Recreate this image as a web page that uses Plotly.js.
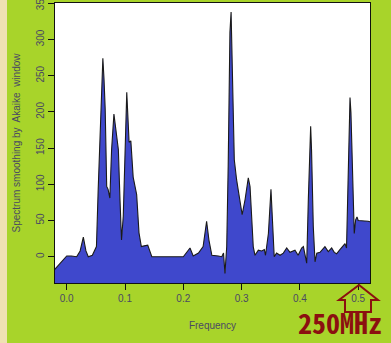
<!DOCTYPE html>
<html>
<head>
<meta charset="utf-8">
<script src="https://cdn.plot.ly/plotly-3.0.1.min.js"></script>
<style>
html,body{margin:0;padding:0;background:#a8d42a;}
#chart{width:391px;height:343px;}
</style>
</head>
<body>
<div id="chart"></div>
<script>
// Frequency axis values
var freq = [-0.032,0.000,0.008,0.017,0.023,0.0285,0.033,0.037,0.044,0.051,0.054,0.057,0.060,0.062,0.064,0.066,0.0686,0.071,0.074,0.077,0.081,0.0846,0.0886,0.0914,0.094,0.097,0.100,0.103,0.107,0.110,0.114,0.118,0.120,0.124,0.128,0.133,0.139,0.146,0.200,0.2115,0.217,0.226,0.234,0.240,0.244,0.249,0.254,0.260,0.266,0.269,0.2715,0.2745,0.277,0.280,0.282,0.284,0.2875,0.2915,0.2955,0.301,0.306,0.3115,0.3145,0.317,0.320,0.323,0.3287,0.3345,0.339,0.341,0.346,0.3504,0.3525,0.356,0.360,0.366,0.3716,0.3774,0.383,0.389,0.3916,0.397,0.403,0.406,0.4117,0.4145,0.4185,0.420,0.423,0.426,0.429,0.4345,0.439,0.443,0.4487,0.4545,0.459,0.463,0.468,0.4717,0.4774,0.480,0.483,0.486,0.4876,0.490,0.4933,0.4957,0.498,0.500,0.517,0.537];
// Smoothed spectrum values
var spectrum = [-28,1,1,0,8,27,8,0,2,14,93,158,230,274,245,204,97,93,81,148,197,171,148,79,23,56,162,227,158,160,110,92,86,33,14,15,16,0,0,12,1,5,14,49,23,2,2,1,0,5,-23,14,125,310,338,264,134,106,88,58,79,109,97,56,14,2,9,8,10,2,32,93,60,0,5,2,5,12,6,8,9,2,12,14,-9,79,180,148,42,-7,5,6,10,14,7,12,6,4,9,12,18,12,125,220,199,125,32,51,55,50,49,45];
var xTicks = [0.0,0.1,0.2,0.3,0.4,0.5];
var yTicks = [0,50,100,150,200,250,300,350];

var xRange = [-0.0201, 0.5203];
var yRange = [-36.3, 350.4];

var base = yRange[0] - 60;
var polyX = freq.concat([freq[freq.length-1], freq[0]]);
var polyY = spectrum.concat([base, base]);

var fillTrace = {
  x: polyX, y: polyY, type: 'scatter', mode: 'lines',
  fill: 'toself', fillcolor: '#3f48cc',
  line: {width: 0, color: 'rgba(0,0,0,0)'},
  hoverinfo: 'skip', showlegend: false
};
var lineTrace = {
  x: freq, y: spectrum, type: 'scatter', mode: 'lines',
  line: {color: '#1a1a1a', width: 1.1},
  showlegend: false
};

var W = 391, H = 343, L = 55, R = 21, T = 3, B = 60;
var pw = W - L - R, ph = H - T - B;
function px(x){ return (x - L) / pw; }
function py(y){ return (H - B - y) / ph; }

var arrowPts = [[359,285],[378,300],[371,300],[371,312],[345,312],[345,300],[339,300]];
var arrowPath = arrowPts.map(function(p,i){ return (i===0?'M ':'L ') + px(p[0]).toFixed(4) + ' ' + py(p[1]).toFixed(4); }).join(' ') + ' Z';

var txtColor = '#4a4a62';

var layout = {
  width: W, height: H,
  margin: {l: L, r: R, t: T, b: B, pad: 0},
  paper_bgcolor: '#a8d42a',
  plot_bgcolor: '#ffffff',
  font: {family: 'Liberation Sans, Arial, sans-serif', size: 10, color: txtColor},
  xaxis: {
    range: xRange, tickvals: xTicks, ticktext: xTicks.map(function(v){return v.toFixed(1);}),
    ticks: 'outside', ticklen: 6, tickcolor: '#111', tickwidth: 1,
    showgrid: false, zeroline: false,
    showline: true, linecolor: '#111', linewidth: 1, mirror: true,
    tickfont: {size: 10, color: txtColor},
    title: {text: 'Frequency', font: {size: 10, color: txtColor}, standoff: 18}
  },
  yaxis: {
    range: yRange, tickvals: yTicks, ticktext: yTicks.map(String), tickangle: -90,
    ticklabeloverflow: 'allow',
    ticks: 'outside', ticklen: 6, tickcolor: '#111', tickwidth: 1,
    showgrid: false, zeroline: false,
    showline: true, linecolor: '#111', linewidth: 1, mirror: true,
    tickfont: {size: 10, color: txtColor},
    title: {text: 'Spectrum smoothing by  Akaike  window', font: {size: 10, color: txtColor}, standoff: 12}
  },
  shapes: [
    {type: 'rect', xref: 'paper', yref: 'paper', x0: px(0), x1: px(7), y0: py(343), y1: py(0),
     fillcolor: '#efe1b2', line: {width: 0}, layer: 'below'},
    {type: 'path', xref: 'paper', yref: 'paper', path: arrowPath,
     line: {color: '#8b1010', width: 2}, fillcolor: 'rgba(0,0,0,0)'}
  ],
  annotations: [
    {text: '<b>250MHz</b>', xref: 'paper', yref: 'paper', x: px(297), y: py(343),
     xanchor: 'left', yanchor: 'bottom', showarrow: false, borderpad: 0,
     font: {family: 'Noto Sans Mono CJK JP, Noto Sans CJK JP, DejaVu Sans Mono, monospace', size: 28, color: '#8b1010'}}
  ]
};

Plotly.newPlot('chart', [fillTrace, lineTrace], layout, {displayModeBar: false, staticPlot: true});
</script>
</body>
</html>
